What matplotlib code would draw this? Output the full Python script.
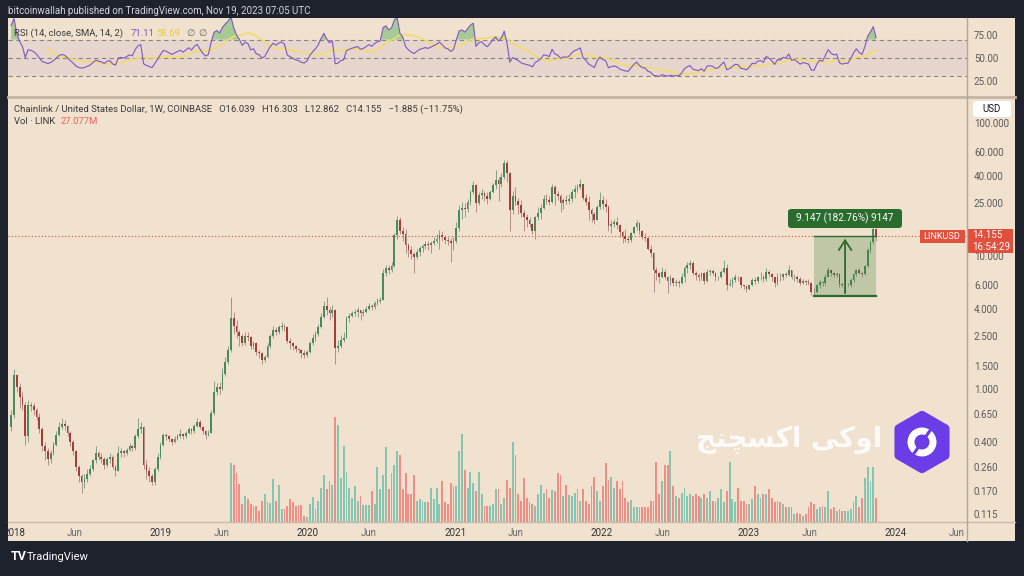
import numpy as np
import pandas as pd
import matplotlib
matplotlib.use('Agg')
import matplotlib.pyplot as plt
import matplotlib.dates as mdates
from matplotlib.patches import Rectangle, FancyBboxPatch, Polygon, Circle
from matplotlib.ticker import NullLocator
from datetime import datetime

plt.rcParams['font.family'] = ['Roboto', 'DejaVu Sans']

# ---------------- data (weekly LINK/USD, Coinbase) ----------------
# closes before the visible window, only used to warm up the RSI
hist_close = [0.21, 0.19, 0.17, 0.18, 0.20, 0.18, 0.16, 0.15, 0.17, 0.22, 0.27, 0.30, 0.38, 0.52]

close_2017 = [0.64]
high_2017 = [0.70]
low_2017 = [0.48]

close_2018 = [1.27, 1.03, 0.87, 0.76, 0.44, 0.76, 0.74, 0.70, 0.62, 0.50, 0.37, 0.34, 0.30,
              0.33, 0.38, 0.45, 0.52, 0.55, 0.53, 0.47, 0.40, 0.34, 0.26, 0.22, 0.20, 0.21,
              0.23, 0.25, 0.29, 0.33, 0.31, 0.30, 0.27, 0.30, 0.31, 0.26, 0.24, 0.33, 0.34,
              0.33, 0.35, 0.37, 0.36, 0.44, 0.50, 0.52, 0.27, 0.24, 0.22, 0.20, 0.25, 0.31, 0.38]
high_2018 = [1.41, 1.30, 1.10, 0.95, 0.80, 0.83, 0.80, 0.79, 0.72, 0.66, 0.52, 0.40, 0.36,
             0.35, 0.40, 0.48, 0.56, 0.60, 0.58, 0.54, 0.48, 0.41, 0.35, 0.27, 0.23, 0.23,
             0.25, 0.27, 0.30, 0.37, 0.34, 0.33, 0.31, 0.31, 0.33, 0.32, 0.27, 0.37, 0.36,
             0.35, 0.36, 0.39, 0.38, 0.46, 0.60, 0.56, 0.53, 0.29, 0.26, 0.23, 0.26, 0.33, 0.40]
low_2018 = [0.60, 0.95, 0.72, 0.70, 0.38, 0.40, 0.68, 0.64, 0.58, 0.47, 0.34, 0.29, 0.27,
            0.28, 0.32, 0.37, 0.44, 0.50, 0.49, 0.44, 0.37, 0.32, 0.24, 0.20, 0.165, 0.18,
            0.20, 0.22, 0.24, 0.28, 0.29, 0.28, 0.25, 0.26, 0.28, 0.25, 0.22, 0.24, 0.31,
            0.31, 0.32, 0.34, 0.34, 0.35, 0.43, 0.47, 0.25, 0.21, 0.20, 0.19, 0.19, 0.24, 0.30]

close_2019 = [0.45, 0.44, 0.42, 0.40, 0.42, 0.44, 0.46, 0.44, 0.47, 0.50, 0.48, 0.53, 0.56,
              0.52, 0.48, 0.45, 0.47, 0.66, 0.95, 1.03, 1.00, 1.30, 1.60, 1.96, 3.40, 3.00,
              2.70, 2.50, 2.20, 2.50, 2.45, 2.10, 2.20, 1.90, 1.85, 1.65, 1.75, 2.10, 2.50,
              2.80, 2.70, 2.90, 3.00, 2.90, 2.30, 2.20, 2.10, 2.00, 1.95, 1.85, 1.80, 1.90]
high_2019 = [0.47, 0.47, 0.45, 0.43, 0.44, 0.46, 0.50, 0.47, 0.48, 0.52, 0.51, 0.55, 0.60,
             0.58, 0.53, 0.49, 0.49, 0.70, 1.15, 1.10, 1.12, 1.45, 1.75, 2.10, 4.90, 3.80,
             3.30, 2.80, 2.60, 2.70, 2.70, 2.50, 2.30, 2.25, 1.95, 1.90, 1.80, 2.20, 2.60,
             2.95, 2.90, 3.05, 3.20, 3.10, 2.95, 2.40, 2.25, 2.15, 2.05, 2.00, 1.95, 1.95]
low_2019 = [0.37, 0.41, 0.40, 0.38, 0.39, 0.41, 0.43, 0.42, 0.43, 0.46, 0.46, 0.47, 0.52,
            0.50, 0.46, 0.42, 0.44, 0.47, 0.64, 0.90, 0.92, 0.98, 1.25, 1.55, 1.90, 2.60,
            2.40, 2.10, 2.10, 2.15, 2.30, 2.00, 2.00, 1.80, 1.72, 1.55, 1.60, 1.70, 2.05,
            2.40, 2.55, 2.60, 2.80, 2.75, 2.20, 2.00, 1.95, 1.90, 1.85, 1.70, 1.72, 1.75]

close_2020 = [2.20, 2.40, 2.60, 2.90, 3.50, 4.20, 3.90, 3.70, 3.90, 2.05, 2.10, 2.35, 2.40,
              3.40, 3.55, 3.70, 3.80, 3.90, 3.70, 3.80, 4.00, 4.20, 4.10, 4.40, 4.60, 4.70,
              7.40, 8.10, 7.80, 8.40, 14.3, 18.6, 15.5, 14.6, 12.0, 11.0, 10.3, 9.80, 10.7,
              11.5, 11.8, 12.2, 12.0, 12.5, 13.0, 13.5, 14.3, 13.8, 13.2, 13.0, 12.5, 13.0]
high_2020 = [2.30, 2.60, 2.75, 3.10, 3.70, 4.60, 4.90, 4.10, 4.30, 4.00, 2.35, 2.55, 2.70,
             3.55, 3.70, 3.85, 4.00, 4.10, 3.95, 4.00, 4.20, 4.40, 4.35, 4.55, 4.80, 4.90,
             8.00, 8.50, 8.60, 9.00, 15.0, 20.0, 19.5, 16.5, 16.0, 12.5, 11.8, 10.8, 11.2,
             11.9, 12.3, 13.0, 12.9, 13.0, 13.9, 14.5, 15.8, 15.5, 14.3, 14.0, 13.6, 14.0]
low_2020 = [1.85, 2.15, 2.30, 2.50, 2.85, 3.40, 3.60, 3.30, 3.50, 1.55, 1.90, 2.05, 2.25,
            2.40, 3.20, 3.45, 3.55, 3.50, 3.30, 3.55, 3.70, 3.95, 3.90, 4.00, 4.30, 4.40,
            4.70, 7.10, 7.30, 7.60, 8.20, 13.5, 14.5, 13.0, 10.5, 9.80, 9.50, 7.40, 9.50,
            10.0, 10.8, 11.2, 11.0, 10.5, 12.1, 12.6, 11.3, 13.0, 12.2, 12.0, 9.00, 11.0]

close_2021 = [16.3, 22.0, 23.0, 22.5, 25.5, 30.5, 34.0, 25.0, 28.5, 29.5, 28.0, 27.0, 30.0,
              34.0, 37.0, 35.0, 39.0, 50.0, 42.0, 22.0, 28.0, 26.0, 24.0, 21.0, 19.5, 18.6,
              17.5, 15.5, 19.5, 21.0, 23.0, 27.0, 26.5, 25.5, 33.0, 29.0, 28.0, 25.0, 26.5,
              26.0, 27.0, 30.0, 32.0, 33.0, 34.5, 27.5, 25.5, 22.0, 20.5, 18.6, 23.5, 26.5]
high_2021 = [18.0, 24.0, 25.5, 25.0, 27.0, 31.5, 36.5, 35.0, 30.0, 32.0, 31.0, 30.5, 31.5,
             35.5, 44.0, 39.0, 42.0, 52.5, 52.9, 43.0, 31.0, 33.0, 27.5, 26.5, 22.0, 20.5,
             19.5, 17.8, 20.0, 23.5, 24.5, 28.5, 29.0, 28.0, 35.0, 34.0, 31.0, 29.0, 27.5,
             28.5, 29.0, 32.0, 34.0, 35.0, 38.0, 34.5, 29.0, 28.0, 23.0, 21.5, 24.0, 30.0]
low_2021 = [12.5, 15.5, 19.0, 19.5, 21.5, 24.0, 29.0, 21.5, 24.0, 27.0, 26.0, 24.5, 26.5,
            29.5, 32.0, 26.0, 33.0, 38.0, 36.0, 15.5, 20.5, 24.0, 20.5, 19.5, 15.5, 16.5,
            16.5, 14.5, 13.5, 18.5, 19.0, 22.5, 24.5, 24.0, 25.0, 24.0, 26.5, 21.5, 22.5,
            24.5, 24.5, 25.5, 27.5, 30.5, 32.0, 26.5, 24.0, 18.5, 18.0, 17.5, 18.5, 22.5]

close_2022 = [24.5, 23.5, 16.8, 17.5, 18.0, 17.2, 15.2, 14.2, 13.4, 13.1, 14.8, 16.5, 17.8,
              15.5, 14.0, 13.6, 11.3, 10.5, 7.90, 7.40, 7.00, 7.60, 7.00, 6.50, 6.80, 6.30,
              6.40, 6.30, 7.00, 8.10, 8.60, 8.90, 7.50, 7.20, 7.00, 7.40, 6.50, 7.60, 7.70,
              7.50, 6.90, 7.00, 7.60, 8.10, 6.00, 6.20, 6.60, 7.00, 6.90, 6.00, 5.90, 5.60]
high_2022 = [28.0, 27.0, 24.0, 18.5, 19.0, 19.5, 17.5, 15.5, 16.0, 14.2, 15.2, 16.8, 18.5,
             18.0, 15.8, 15.0, 14.0, 12.0, 10.8, 8.30, 7.60, 8.20, 8.00, 7.10, 7.20, 6.90,
             6.70, 6.60, 7.40, 8.40, 9.00, 9.40, 9.10, 7.70, 7.40, 7.60, 7.60, 8.00, 8.00,
             8.00, 7.60, 7.10, 7.80, 9.30, 8.70, 6.70, 6.90, 7.30, 7.10, 7.00, 6.10, 5.90]
low_2022 = [22.5, 21.5, 15.5, 14.8, 16.5, 16.0, 14.0, 12.5, 12.8, 12.5, 12.8, 14.5, 15.8,
            14.5, 13.5, 13.0, 11.0, 9.80, 5.40, 6.60, 6.30, 6.80, 6.70, 5.30, 6.00, 5.90,
            5.90, 5.80, 6.20, 6.40, 7.40, 8.00, 7.20, 6.60, 6.50, 6.60, 6.20, 6.40, 7.20,
            7.20, 6.50, 6.60, 6.80, 7.50, 5.50, 5.90, 5.80, 6.40, 6.50, 5.70, 5.60, 5.40]

close_2023 = [6.00, 6.60, 6.50, 6.90, 7.00, 6.70, 7.60, 7.30, 6.90, 6.30, 7.00, 6.90, 7.30,
              7.20, 7.80, 6.90, 7.00, 6.70, 6.30, 6.50, 6.40, 6.30, 5.40, 5.35, 6.00, 6.40,
              6.30, 7.00, 7.80, 7.40, 7.20, 7.30, 6.20, 6.00, 6.10, 6.10, 6.60, 7.30, 7.90,
              7.50, 7.30, 8.40, 11.0, 12.7, 16.04, 14.155]
high_2023 = [6.10, 6.80, 6.90, 7.10, 7.60, 7.20, 8.10, 7.90, 7.50, 7.00, 7.40, 7.50, 7.50,
             7.60, 8.50, 7.90, 7.30, 7.20, 6.90, 6.70, 6.60, 6.70, 6.40, 5.70, 6.20, 6.60,
             6.50, 7.30, 8.30, 7.90, 7.60, 7.60, 7.40, 6.30, 6.50, 6.30, 6.80, 7.50, 8.00,
             8.10, 7.60, 8.60, 11.5, 13.0, 16.4, 16.303]
low_2023 = [5.50, 5.90, 6.20, 6.30, 6.60, 6.40, 6.50, 7.00, 6.50, 5.80, 6.00, 6.50, 6.60,
            6.90, 7.10, 6.70, 6.50, 6.40, 6.10, 6.20, 6.10, 6.10, 5.10, 5.005, 5.30, 5.70,
            5.90, 6.10, 6.90, 7.10, 6.90, 7.00, 5.80, 5.80, 5.80, 5.90, 5.80, 6.40, 7.10,
            7.30, 6.90, 7.20, 8.30, 10.6, 12.4, 12.862]

# weekly volume (millions of LINK), from the week of 24 Jun 2019
volume = [65.0, 63.2, 54.2, 42.2, 19.9, 28.9, 25.3, 19.9, 18.1, 18.1,
          12.6, 23.5, 31.4, 22.7, 20.6, 48.0, 23.5, 40.8, 14.4, 14.4,
          18.1, 25.3, 21.7, 18.1, 19.1, 19.1, 7.2, 6.1, 19.9, 27.8,
          14.4, 23.5, 37.9, 52.3, 36.1, 45.1, 41.5, 116.6, 107.2, 48.7,
          84.8, 56.0, 37.9, 27.1, 39.7, 23.5, 28.9, 19.1, 19.1, 19.1,
          34.3, 19.9, 61.4, 36.1, 52.3, 83.0, 36.1, 54.2, 63.2, 79.4,
          74.0, 36.1, 54.2, 31.4, 31.4, 52.3, 23.5, 25.3, 23.5, 21.7,
          21.7, 37.9, 25.3, 37.9, 19.9, 45.1, 21.7, 19.9, 43.3, 39.7,
          39.7, 79.4, 97.5, 57.8, 37.9, 56.0, 43.3, 34.3, 56.0, 30.7,
          18.1, 18.1, 18.1, 19.9, 36.1, 36.1, 19.9, 27.1, 46.9, 37.9,
          88.4, 74.0, 30.7, 23.5, 48.7, 27.1, 21.7, 19.9, 18.1, 30.7,
          41.5, 32.5, 36.1, 27.1, 35.0, 34.3, 54.2, 52.3, 28.9, 41.5,
          30.0, 28.9, 32.5, 36.1, 23.5, 36.1, 23.5, 19.9, 39.7, 50.5,
          34.3, 23.5, 39.7, 65.0, 46.9, 50.5, 37.9, 45.1, 36.1, 45.1,
          27.1, 21.7, 24.2, 17.0, 16.2, 17.0, 16.2, 16.2, 16.2, 23.5,
          23.5, 66.8, 30.7, 45.1, 63.2, 63.2, 79.4, 39.7, 28.9, 27.1,
          32.5, 37.9, 28.9, 30.7, 28.9, 31.4, 28.9, 27.1, 31.4, 27.1,
          34.3, 23.5, 21.7, 27.1, 36.1, 21.7, 34.3, 66.8, 25.3, 21.7,
          37.9, 23.5, 23.5, 19.9, 19.9, 25.3, 39.7, 30.7, 27.1, 30.7,
          30.7, 36.1, 27.1, 21.7, 23.5, 21.7, 19.9, 16.2, 16.2,
          16.2, 9.0, 9.7, 9.0, 7.2, 9.0, 16.2, 21.7, 19.9, 14.4,
          16.2, 18.1, 16.2, 34.3, 14.4, 16.2, 12.6, 14.4, 12.6, 12.6,
          12.6, 14.4, 21.7, 28.9, 16.2, 27.1, 48.7, 61.4, 45.1, 61.4,
          27.077]

price_ticks = [100, 60, 40, 25, 10, 6, 4, 2.5, 1.5, 1.0, 0.65, 0.4, 0.26, 0.17, 0.115]
rsi_ticks = [75, 50, 25]
label_years = [2018, 2019, 2020, 2021, 2022, 2023, 2024]

# measured move drawn on the chart
move_start = datetime(2023, 6, 12)
move_end = datetime(2023, 11, 13)
move_low = 5.005
move_high = 14.155

# ---------------- assemble ----------------
close = np.array(close_2017 + close_2018 + close_2019 + close_2020 + close_2021 + close_2022 + close_2023)
high = np.array(high_2017 + high_2018 + high_2019 + high_2020 + high_2021 + high_2022 + high_2023)
low = np.array(low_2017 + low_2018 + low_2019 + low_2020 + low_2021 + low_2022 + low_2023)
opens = np.r_[hist_close[-1], close[:-1]]
high = np.maximum(high, np.maximum(opens, close))
low = np.minimum(low, np.minimum(opens, close))
dates = pd.date_range('2017-12-25', periods=len(close), freq='7D')
vol = np.array(volume)
vol_dates = dates[-len(vol):]

# RSI(14) with Wilder smoothing, and its 14-period SMA
all_close = np.r_[hist_close, close]
all_dates = pd.date_range('2017-09-18', periods=len(all_close), freq='7D')
delta = np.diff(all_close, prepend=np.nan)
gain = np.where(delta > 0, delta, 0.0)
loss = np.where(delta < 0, -delta, 0.0)
n = 14
avg_g = np.full(len(all_close), np.nan)
avg_l = np.full(len(all_close), np.nan)
avg_g[n] = gain[1:n + 1].mean()
avg_l[n] = loss[1:n + 1].mean()
for i in range(n + 1, len(all_close)):
    avg_g[i] = (avg_g[i - 1] * (n - 1) + gain[i]) / n
    avg_l[i] = (avg_l[i - 1] * (n - 1) + loss[i]) / n
rsi = 100 - 100 / (1 + avg_g / np.where(avg_l == 0, 1e-9, avg_l))
rsi_sma = pd.Series(rsi).rolling(14).mean().to_numpy()

# ---------------- style ----------------
W, H = 1024, 576
DARK = '#1e222d'
BG = '#f1e1cf'
GREEN, GREEN_W = '#478a5b', '#86a08c'
RED, RED_W = '#a33e38', '#b48f8a'
VOL_UP, VOL_DN = '#86c5b1', '#ee8f87'
AXIS_TXT = '#5a5a5a'
PRICE_RED = '#e0503c'


def rect(l, t, r, b):
    return [l / W, 1 - b / H, (r - l) / W, (b - t) / H]


fig = plt.figure(figsize=(W / 100, H / 100), dpi=100, facecolor=DARK)

ax_bg = fig.add_axes([0, 0, 1, 1], zorder=-5)
ax_bg.set_xlim(0, W)
ax_bg.set_ylim(H, 0)
ax_bg.axis('off')
ax_bg.add_patch(Rectangle((8, 18), 1007, 523, fc=BG, ec='none'))

x0 = mdates.date2num(datetime(2018, 1, 1))
xlim = (x0 - 6 / 147 * 365.25, x0 + 953 / 147 * 365.25)

# --- RSI pane ---
ax_rsi = fig.add_axes(rect(8, 18, 967, 96), zorder=3)
ax_rsi.patch.set_visible(False)
ax_rsi.fill_between(xlim, 30, 70, color='#7e57c2', alpha=0.08, lw=0)
for lvl in (70, 50, 30):
    ax_rsi.axhline(lvl, color='#8a8580', lw=0.8, ls=(0, (4, 3)))
ax_rsi.fill_between(all_dates, 70, rsi, where=rsi > 70, interpolate=True,
                    color='#4caf50', alpha=0.45, lw=0)
ax_rsi.plot(all_dates, rsi_sma, color='#f2dc6a', lw=1.3, alpha=0.9)
ax_rsi.plot(all_dates, rsi, color='#7e57c2', lw=0.8)
ax_rsi.set_xlim(xlim)
ax_rsi.set_ylim(8.7, 93.5)
ax_rsi.set_xticks([])
ax_rsi.yaxis.tick_right()
ax_rsi.set_yticks(rsi_ticks)
ax_rsi.set_yticklabels([f'{v:.2f}' for v in rsi_ticks])
ax_rsi.tick_params(axis='y', length=0, pad=5, labelsize=7, labelcolor=AXIS_TXT)
for s in ax_rsi.spines.values():
    s.set_visible(False)

# --- volume (behind candles) ---
ax_vol = fig.add_axes(rect(8, 98, 967, 522), zorder=2)
ax_vol.patch.set_visible(False)
vol_up = (close >= opens)[-len(vol):]
ax_vol.bar(vol_dates, vol, width=4.6, color=np.where(vol_up, VOL_UP, VOL_DN), lw=0)
ax_vol.set_xlim(xlim)
ax_vol.set_ylim(0, vol.max() / 0.2476)
ax_vol.axis('off')

# --- price pane ---
ax = fig.add_axes(rect(8, 98, 967, 522), zorder=3)
ax.patch.set_visible(False)
ax.set_yscale('log')
up = close >= opens
body_lo = np.minimum(opens, close)
body_hi = np.maximum(opens, close)
for mask, bc, wc in ((up, GREEN, GREEN_W), (~up, RED, RED_W)):
    ax.vlines(dates[mask], low[mask], high[mask], color=wc, lw=0.7, zorder=2)
    ax.bar(dates[mask], (body_hi - body_lo)[mask], bottom=body_lo[mask], width=4.4,
           color=bc, lw=0, zorder=3)
ax.axhline(close[-1], color=PRICE_RED, lw=0.8, ls=(0, (1, 2)), zorder=1)

# measured-move box
xs, xe = mdates.date2num(move_start), mdates.date2num(move_end)
ax.add_patch(Rectangle((xs, move_low), xe - xs, move_high - move_low,
                       fc='#2e7d32', alpha=0.25, ec='none', zorder=4))
ax.plot([xs, xe], [move_low, move_low], color='#2a6b2e', lw=1.6, zorder=5)
ax.plot([xs, xe], [move_high, move_high], color='#2a6b2e', lw=1.0, zorder=5)
xm = (xs + xe) / 2
ax.annotate('', xy=(xm, move_high), xytext=(xm, move_low),
            arrowprops=dict(arrowstyle='->,head_length=0.7,head_width=0.45',
                            color='#2a6b2e', lw=1.3), zorder=5)

ax.set_xlim(xlim)
ax.set_ylim(0.1, 154)
ax.yaxis.tick_right()
ax.yaxis.set_minor_locator(NullLocator())
ax.set_yticks(price_ticks)
ax.set_yticklabels([f'{v:.3f}' for v in price_ticks])
ax.tick_params(axis='y', length=0, pad=5, labelsize=7, labelcolor=AXIS_TXT)

xt, xl = [], []
for y in label_years:
    xt += [datetime(y, 1, 1), datetime(y, 6, 1)]
    xl += [str(y), 'Jun']
ax.set_xticks(xt)
ax.set_xticklabels(xl)
ax.xaxis.set_minor_locator(NullLocator())
ax.tick_params(axis='x', length=0, pad=4, labelsize=7)
for lab in ax.get_xticklabels():
    lab.set_color('#333333' if lab.get_text() != 'Jun' else '#6a6a6a')
for s in ax.spines.values():
    s.set_visible(False)

# --- overlay in pixel coordinates ---
ov = fig.add_axes([0, 0, 1, 1], zorder=10)
ov.set_xlim(0, W)
ov.set_ylim(H, 0)
ov.axis('off')
ov.patch.set_visible(False)

ov.add_patch(Rectangle((0, 18), 8, 523, fc=DARK, ec='none'))
ov.plot([8, 1015], [97, 97], color='#c4b5a2', lw=2)
ov.plot([8, 1015], [522, 522], color='#c9bcaa', lw=1)
ov.plot([967, 967], [18, 541], color='#b3a796', lw=1)

ov.text(8, 11, 'bitcoinwallah published on TradingView.com, Nov 19, 2023 07:05 UTC',
        color='#d1d4dc', fontsize=7, va='center')

txt = '#3b3b3b'
ov.text(14, 33, 'RSI (14, close, SMA, 14, 2)', color=txt, fontsize=6.8, va='center')
ov.text(131, 33, '71.11', color='#7e57c2', fontsize=6.8, va='center')
ov.text(156, 33, f'{rsi_sma[-1]:.2f}', color='#e8cc45', fontsize=6.8, va='center')
ov.text(186, 33, '\u2205', color='#666', fontsize=6.8, va='center')
ov.text(198, 33, '\u2205', color='#666', fontsize=6.8, va='center')

ov.text(14, 109, 'Chainlink / United States Dollar, 1W, COINBASE   O16.039   H16.303   '
        'L12.862   C14.155   \u22121.885 (\u221211.75%)', color=txt, fontsize=6.8, va='center')
ov.text(14, 122, 'Vol \u00b7 LINK', color=txt, fontsize=6.8, va='center')
ov.text(61, 122, '27.077M', color='#e8675e', fontsize=6.8, va='center')

# USD box
ov.add_patch(FancyBboxPatch((973, 101), 38, 16, boxstyle='round,pad=0,rounding_size=3',
                            fc='white', ec='none'))
ov.text(992, 109, 'USD', color='#131722', fontsize=7, ha='center', va='center')

# last price tags
ov.add_patch(Rectangle((920, 230), 45, 13, fc=PRICE_RED, ec='none'))
ov.text(942, 236.5, 'LINKUSD', color='white', fontsize=6.6, ha='center', va='center')
ov.add_patch(Rectangle((968, 229), 45, 24, fc=PRICE_RED, ec='none'))
ov.text(972, 235.5, '14.155', color='white', fontsize=7, va='center')
ov.text(972, 246.5, '16:54:29', color='white', fontsize=7, va='center')

# measured move label
ov.add_patch(FancyBboxPatch((788, 209), 114, 19, boxstyle='round,pad=0,rounding_size=3',
                            fc='#2a6b2e', ec='none'))
ov.text(845, 218.5, '9.147 (182.76%) 9147', color='white', fontsize=7.2,
        ha='center', va='center')

# watermark
fa = '\uFE9E\uFEE8\uFB7D\uFEB4\uFB90\uFE8D \uFBFD\uFB90\uFEED\uFE8D'
ov.text(882, 440, fa, color='white', alpha=0.9, fontsize=20, fontweight='bold',
        family=['DejaVu Sans'], ha='right', va='center')
cx, cy, R = 922, 442, 27
ang = np.deg2rad(np.arange(-90, 270, 60))
ov.add_patch(Polygon(np.c_[cx + R * np.cos(ang), cy + R * np.sin(ang)], closed=True,
                     fc='#6b3de6', ec='#6b3de6', lw=6, joinstyle='round'))
ov.add_patch(Circle((cx, cy), 14.5, fc='white', ec='none'))
ov.add_patch(Circle((cx, cy), 7.5, fc='#6b3de6', ec='none'))
for a in (-55, 125):
    t = np.deg2rad(a)
    ov.plot([cx + 6 * np.cos(t), cx + 16 * np.cos(t)], [cy + 6 * np.sin(t), cy + 16 * np.sin(t)],
            color='#6b3de6', lw=2.2, solid_capstyle='butt')

# footer logo
ov.text(11, 557, 'TV', color='white', fontsize=9, fontweight='bold', va='center')
ov.text(27, 557, 'TradingView', color='white', fontsize=8, va='center')

fig.savefig('out.png', dpi=100, facecolor=DARK)
